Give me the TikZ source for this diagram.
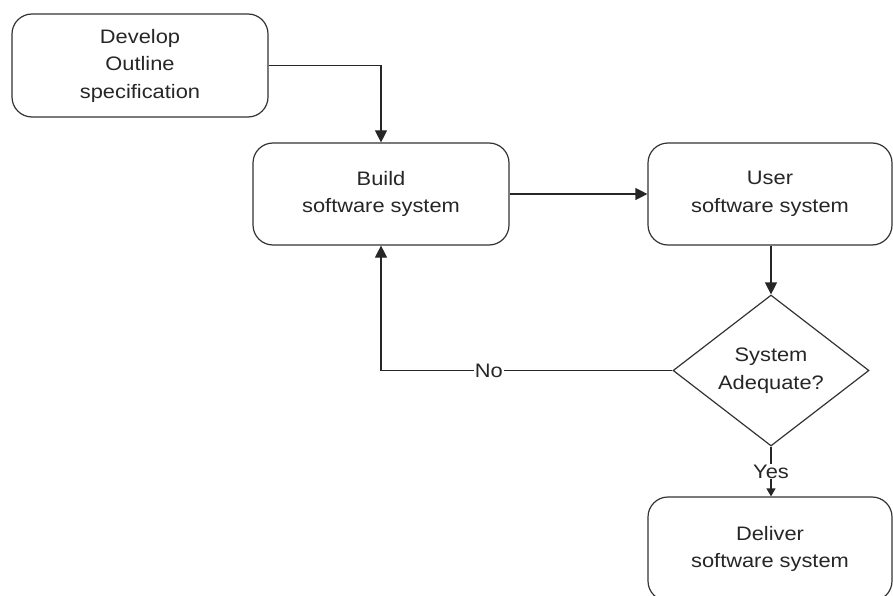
\documentclass[tikz,border=0pt]{standalone}
\usepackage{fontspec}
\setmainfont[FakeStretch=1.12]{Liberation Sans}
\usetikzlibrary{shapes.geometric,arrows.meta}
\begin{document}
\begin{tikzpicture}[x=1pt,y=-1pt,
  every node/.style={font=\fontsize{19.5}{27.5}\selectfont, text=black!85},
  procbox/.style={draw=black!80, line width=1.2pt, rounded corners=20pt, align=center, inner sep=0pt},
  decision/.style={draw=black!80, line width=1.2pt, diamond, aspect=1.3, inner sep=0pt, minimum width=196pt, minimum height=151pt, align=center},
  flow/.style={draw=black!85, line width=1.2pt, -{Triangle[length=12pt,width=12pt]}},
  flowlabel/.style={fill=white, inner sep=1pt}]
\useasboundingbox (0,0) rectangle (893,596);
\clip (0,0) rectangle (893,596);
\node[procbox, minimum width=256pt, minimum height=103pt] (dev) at (140,65.5) {Develop\\Outline\\specification};
\node[procbox, minimum width=256pt, minimum height=102pt] (build) at (381,194) {Build\\software system};
\node[procbox, minimum width=244pt, minimum height=102pt] (user) at (770,194) {User\\software system};
\node[decision] (adq) at (771,370.5) {System\\Adequate?};
\node[procbox, minimum width=244pt, minimum height=104pt] (deliv) at (770,549) {Deliver\\software system};
\coordinate (c1) at (build.north |- dev.east);
\coordinate (c2) at (build.south |- adq.west);
\draw[flow] (dev.east) -- (c1) -- (build.north);
\draw[flow] (build.east) -- (user.west);
\draw[flow] (user.south -| adq.north) -- (adq.north);
\draw[flow] (adq.west) -- node[flowlabel, pos=0.63] (no) {No} (c2) -- (build.south);
\draw[flow, -{Triangle[length=8pt,width=9pt]}] (adq.south) -- node[flowlabel, pos=0.5, inner sep=0.5pt] (yes) {Yes} (deliv.north -| adq.south);
\end{tikzpicture}
\end{document}
